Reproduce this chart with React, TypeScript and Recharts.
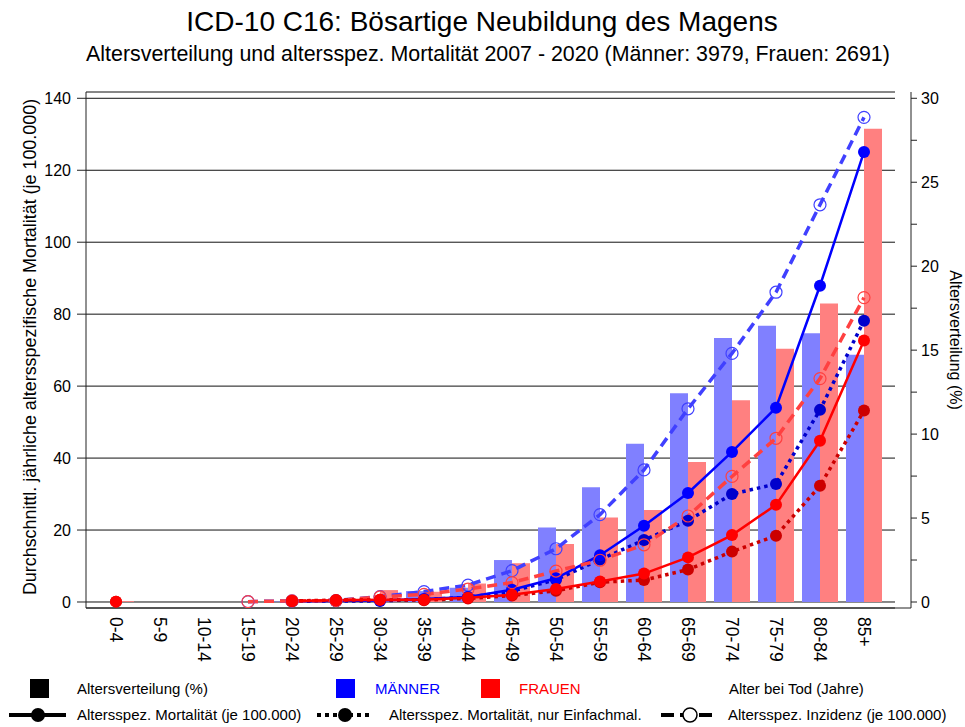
import React from 'react';
import { ComposedChart, Bar, Line, XAxis, YAxis, CartesianGrid } from 'recharts';

const categories = ['0-4', '5-9', '10-14', '15-19', '20-24', '25-29', '30-34', '35-39', '40-44', '45-49', '50-54', '55-59', '60-64', '65-69', '70-74', '75-79', '80-84', '85+'];

// Altersverteilung (%) – right axis
const menDistribution = [0, 0, 0, 0, 0.03, 0.08, 0.15, 0.65, 0.85, 2.5, 4.43, 6.83, 9.42, 12.44, 15.73, 16.45, 16.01, 14.72];
const womenDistribution = [0.05, 0, 0, 0, 0.07, 0.15, 0.71, 0.61, 1.1, 2.31, 3.46, 5.03, 5.48, 8.34, 12.02, 15.08, 17.78, 28.19];

// Altersspez. Mortalität (je 100.000) – left axis
const menMortality = [null, null, null, null, 0.2, 0.3, 0.4, 0.8, 1.4, 3.4, 6.6, 13.0, 21.2, 30.3, 41.7, 54.0, 87.9, 125.1];
const menMortalitySingle = [null, null, null, null, 0.2, 0.3, 0.3, 0.7, 1.3, 3.0, 6.2, 11.8, 17.2, 22.6, 30.0, 32.8, 53.4, 78.2];
const menIncidence = [null, null, null, 0.1, 0.3, 0.4, 1.5, 2.9, 4.7, 8.7, 14.8, 24.3, 36.7, 53.7, 69.1, 86.1, 110.4, 134.7];
const womenMortality = [0.1, null, null, null, 0.3, 0.5, 0.6, 0.6, 1.2, 2.0, 3.6, 5.7, 7.9, 12.4, 18.6, 27.0, 44.8, 72.7];
const womenMortalitySingle = [0.1, null, null, null, 0.3, 0.5, 0.6, 0.5, 1.0, 1.8, 3.1, 5.5, 6.1, 9.0, 14.0, 18.4, 32.3, 53.2];
const womenIncidence = [null, null, null, 0.1, 0.3, 0.4, 1.4, 2.1, 3.6, 5.4, 8.6, 11.6, 15.9, 23.9, 34.9, 45.5, 62.1, 84.6];

const leftTicks = [0, 20, 40, 60, 80, 100, 120, 140];
const rightTicks = [0, 2.5, 5, 7.5, 10, 12.5, 15, 17.5, 20, 22.5, 25, 27.5, 30];

const data = categories.map((age, i) => ({
  age,
  menDist: menDistribution[i],
  womenDist: womenDistribution[i],
  menMort: menMortality[i],
  menMortSingle: menMortalitySingle[i],
  menInc: menIncidence[i],
  womenMort: womenMortality[i],
  womenMortSingle: womenMortalitySingle[i],
  womenInc: womenIncidence[i],
}));

const FONT = '"Liberation Sans", Arial, sans-serif';

const XTick = (props: any) => {
  const { x, y, payload } = props;
  return (
    <g transform={`translate(${x},${y})`}>
      <text
        transform="rotate(90)"
        x={9}
        y={0}
        textAnchor="start"
        dominantBaseline="central"
        fontSize={17.5}
        fontFamily={FONT}
        fill="#000"
      >
        {payload.value}
      </text>
    </g>
  );
};

const filledDot = (color: string) => (p: any) => {
  if (p.cy == null || p.value == null || (Array.isArray(p.value) && p.value[1] == null)) {
    return <g key={`d-${p.index}`} />;
  }
  return <circle key={`d-${p.index}`} cx={p.cx} cy={p.cy} r={6} fill={color} stroke="none" />;
};

const openDot = (color: string) => (p: any) => {
  if (p.cy == null || p.value == null || (Array.isArray(p.value) && p.value[1] == null)) {
    return <g key={`o-${p.index}`} />;
  }
  return <circle key={`o-${p.index}`} cx={p.cx} cy={p.cy} r={6} fill="none" stroke={color} strokeWidth={1.2} />;
};

const gridLine = (props: any) => (
  <line
    key={`g-${props.index}-${props.y1}`}
    x1={props.x1}
    y1={props.y1}
    x2={props.x2 - 16}
    y2={props.y2}
    stroke="#111"
    strokeWidth={1}
  />
);

export default function App() {
  return (
    <div style={{ position: 'absolute', left: 0, top: 0, width: 965, height: 727, background: '#fff' }}>
      <ComposedChart
        width={965}
        height={727}
        data={data}
        margin={{ top: 92, right: 14, bottom: 49, left: 26 }}
        barGap={0}
        barCategoryGap={4}
      >
        <CartesianGrid yAxisId="left" vertical={false} horizontal={gridLine} />
        <XAxis
          dataKey="age"
          type="category"
          interval={0}
          padding={{ left: 8, right: 25 }}
          height={70}
          tickLine={false}
          tickSize={0}
          tickMargin={0}
          axisLine={{ stroke: '#222', strokeWidth: 1 }}
          tick={<XTick />}
        />
        <YAxis
          yAxisId="left"
          orientation="left"
          type="number"
          width={60}
          domain={[-1.67, 141.75]}
          allowDataOverflow
          ticks={leftTicks}
          interval={0}
          tickSize={9}
          tickMargin={6}
          axisLine={{ stroke: '#222', strokeWidth: 1 }}
          tickLine={{ stroke: '#222', strokeWidth: 1 }}
          tick={{ fontSize: 16, fontFamily: FONT, fill: '#000' }}
        />
        <YAxis
          yAxisId="right"
          orientation="right"
          type="number"
          width={40}
          domain={[-0.357, 30.375]}
          allowDataOverflow
          ticks={rightTicks}
          interval={0}
          tickSize={6}
          tickMargin={4}
          tickFormatter={(v: number) => (v % 5 === 0 ? String(v) : '')}
          axisLine={{ stroke: '#222', strokeWidth: 1 }}
          tickLine={{ stroke: '#222', strokeWidth: 1 }}
          tick={{ fontSize: 16, fontFamily: FONT, fill: '#000' }}
        />

        <Bar yAxisId="right" dataKey="menDist" fill="#8080FF" isAnimationActive={false} />
        <Bar yAxisId="right" dataKey="womenDist" fill="#FF8080" isAnimationActive={false} />

        <Line yAxisId="left" dataKey="menInc" stroke="#4040FF" strokeWidth={3.5} strokeDasharray="10 6" dot={openDot('#4040FF')} activeDot={false} isAnimationActive={false} />
        <Line yAxisId="left" dataKey="menMortSingle" stroke="#0000CC" strokeWidth={3.5} strokeDasharray="3.5 4" dot={filledDot('#0000CC')} activeDot={false} isAnimationActive={false} />
        <Line yAxisId="left" dataKey="menMort" stroke="#0000FF" strokeWidth={2.5} dot={filledDot('#0000FF')} activeDot={false} isAnimationActive={false} />
        <Line yAxisId="left" dataKey="womenInc" stroke="#FF4040" strokeWidth={3.5} strokeDasharray="10 6" dot={openDot('#FF4040')} activeDot={false} isAnimationActive={false} />
        <Line yAxisId="left" dataKey="womenMortSingle" stroke="#CC0000" strokeWidth={3.5} strokeDasharray="3.5 4" dot={filledDot('#CC0000')} activeDot={false} isAnimationActive={false} />
        <Line yAxisId="left" dataKey="womenMort" stroke="#FF0000" strokeWidth={2.5} dot={filledDot('#FF0000')} activeDot={false} isAnimationActive={false} />
      </ComposedChart>

      <svg
        width={965}
        height={727}
        style={{ position: 'absolute', left: 0, top: 0, pointerEvents: 'none' }}
        fontFamily={FONT}
      >
        <text x={482} y={31} textAnchor="middle" fontSize={28} fill="#000">
          ICD-10 C16: Bösartige Neubildung des Magens
        </text>
        <text x={488} y={61} textAnchor="middle" fontSize={21.4} fill="#000">
          Altersverteilung und altersspez. Mortalität 2007 - 2020 (Männer: 3979, Frauen: 2691)
        </text>

        <text transform="translate(30,347) rotate(-90)" textAnchor="middle" dominantBaseline="central" fontSize={17.9} fill="#000">
          Durchschnittl. jährliche altersspezifische Mortalität (je 100.000)
        </text>
        <text transform="translate(955,340) rotate(90)" textAnchor="middle" dominantBaseline="central" fontSize={16} fill="#000">
          Altersverteilung (%)
        </text>

        {/* Legend row 1 */}
        <rect x={30} y={679} width={19} height={19} fill="#000" />
        <text x={77} y={694} fontSize={15} fill="#000">Altersverteilung (%)</text>
        <rect x={336} y={679} width={19} height={19} fill="#0000FF" />
        <text x={375} y={694} fontSize={15} fill="#0000FF">MÄNNER</text>
        <rect x={481} y={679} width={19} height={19} fill="#FF0000" />
        <text x={519} y={694} fontSize={15} fill="#FF0000">FRAUEN</text>
        <text x={729} y={694} fontSize={15} fill="#000">Alter bei Tod (Jahre)</text>

        {/* Legend row 2 */}
        <line x1={9} y1={715} x2={66} y2={715} stroke="#000" strokeWidth={4} />
        <circle cx={38} cy={715} r={7} fill="#000" />
        <text x={77} y={720} fontSize={15} fill="#000">Altersspez. Mortalität (je 100.000)</text>

        <line x1={317} y1={715} x2={372} y2={715} stroke="#000" strokeWidth={4} strokeDasharray="4 4" />
        <circle cx={345} cy={715} r={7} fill="#000" />
        <text x={389} y={720} fontSize={15} fill="#000">Altersspez. Mortalität, nur Einfachmal.</text>

        <line x1={661} y1={715} x2={718} y2={715} stroke="#000" strokeWidth={4} strokeDasharray="13 6" />
        <circle cx={690} cy={715} r={7} fill="#fff" stroke="#000" strokeWidth={1.5} />
        <text x={728} y={720} fontSize={15} fill="#000">Altersspez. Inzidenz (je 100.000)</text>
      </svg>
    </div>
  );
}
